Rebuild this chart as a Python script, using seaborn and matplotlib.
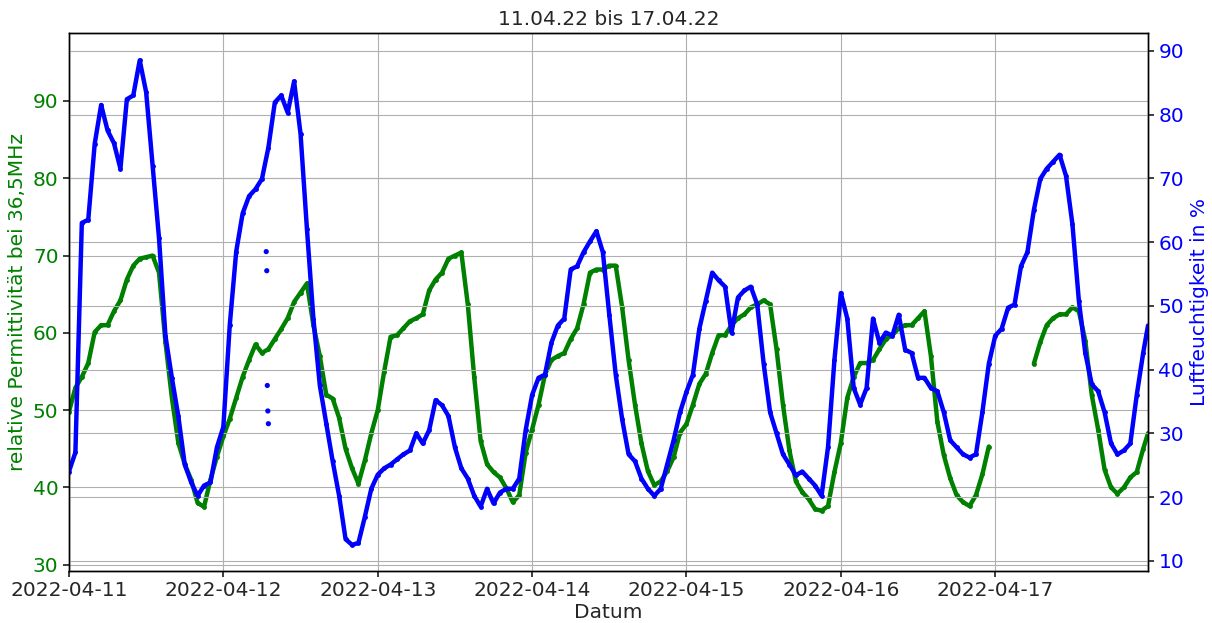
import numpy as np
import pandas as pd
import matplotlib
matplotlib.use("Agg")
import matplotlib.pyplot as plt
import matplotlib.dates as mdates
import seaborn as sns

# Hourly readings (00:00 ... 23:00) per day, 11.04.22 - 17.04.22
humidity_11 = [24.0, 27.0, 63.0, 63.5, 75.4, 81.5, 77.5, 75.5, 71.5, 82.4, 83.0, 88.5,
               83.5, 72.0, 60.6, 45.3, 38.7, 32.7, 25.1, 22.3, 20.2, 21.8, 22.3, 27.8]
humidity_12 = [31.0, 47.0, 58.5, 64.5, 67.2, 68.3, 69.9, 74.8, 81.9, 83.0, 80.3, 85.2,
               77.0, 62.0, 48.0, 37.5, 31.5, 25.6, 20.2, 13.4, 12.5, 12.8, 16.9, 21.3]
humidity_13 = [23.5, 24.5, 25.1, 25.9, 26.7, 27.3, 30.0, 28.4, 30.5, 35.2, 34.4, 32.7,
               27.8, 24.5, 22.9, 20.2, 18.5, 21.3, 19.0, 20.7, 21.3, 21.3, 22.9, 30.5]
humidity_14 = [36.0, 38.7, 39.2, 44.2, 46.9, 48.0, 55.7, 56.2, 58.4, 60.1, 61.7, 58.4,
               48.6, 39.2, 32.2, 26.7, 25.6, 22.9, 21.3, 20.2, 21.3, 25.1, 28.9, 33.3]
humidity_15 = [36.5, 39.2, 46.4, 50.8, 55.2, 54.0, 53.0, 45.8, 51.3, 52.4, 53.0, 50.2,
               40.9, 33.3, 30.0, 26.7, 25.1, 23.4, 24.0, 22.9, 21.8, 20.2, 27.8, 41.5]
humidity_16 = [52.0, 48.0, 37.1, 34.5, 37.1, 48.0, 44.2, 45.8, 45.3, 48.6, 43.1, 42.6,
               38.7, 38.7, 37.1, 36.6, 33.3, 28.9, 27.8, 26.7, 26.2, 26.7, 33.3, 40.9]
humidity_17 = [45.3, 46.4, 49.7, 50.2, 56.2, 58.4, 65.0, 69.9, 71.5, 72.6, 73.7, 70.4,
               62.8, 50.8, 42.6, 37.7, 36.6, 33.3, 28.4, 26.7, 27.3, 28.4, 36.0, 42.6]
humidity_last = 46.9

permittivity_11 = [49.8, 52.9, 54.3, 56.1, 60.1, 61.0, 61.0, 62.8, 64.2, 66.9, 68.7, 69.6,
                   69.8, 70.0, 67.8, 58.8, 51.6, 45.8, 43.0, 41.0, 38.0, 37.5, 41.0, 44.0]
permittivity_12 = [46.6, 48.9, 51.6, 54.3, 56.5, 58.5, 57.4, 57.9, 59.2, 60.5, 61.9, 64.0,
                   65.2, 66.4, 61.0, 57.0, 52.0, 51.5, 49.0, 45.0, 42.5, 40.5, 43.5, 47.0]
permittivity_13 = [50.0, 55.0, 59.5, 59.7, 60.6, 61.5, 61.9, 62.4, 65.5, 66.9, 67.8, 69.6,
                   70.0, 70.4, 63.7, 54.3, 46.0, 43.0, 42.0, 41.3, 39.9, 38.1, 39.0, 44.5]
permittivity_14 = [47.5, 50.7, 54.6, 56.5, 57.0, 57.4, 59.2, 60.6, 63.7, 67.8, 68.2, 68.2,
                   68.7, 68.7, 63.3, 56.5, 50.7, 45.7, 42.1, 40.3, 40.8, 42.1, 43.9, 47.1]
permittivity_15 = [48.2, 50.7, 53.4, 54.7, 57.4, 59.7, 59.7, 61.0, 61.9, 62.4, 63.3, 63.7,
                   64.2, 63.7, 57.9, 50.7, 44.8, 40.8, 39.4, 38.5, 37.2, 37.0, 37.6, 42.0]
permittivity_16 = [45.8, 51.6, 54.3, 56.1, 56.1, 56.5, 57.9, 59.2, 59.7, 60.6, 61.0, 61.0,
                   61.9, 62.8, 57.0, 48.5, 44.2, 41.2, 39.0, 38.1, 37.6, 39.0, 41.7, 45.3]
permittivity_17 = [np.nan, np.nan, np.nan, np.nan, np.nan, np.nan, 56.0, 58.8, 61.0, 61.9, 62.4, 62.4,
                   63.3, 62.8, 59.0, 52.0, 47.5, 42.3, 40.0, 39.2, 40.0, 41.3, 42.0, 45.0]
permittivity_last = 47.0

# isolated sensor spikes (12.04.22 morning)
spike_times = ["2022-04-12 06:40", "2022-04-12 06:45", "2022-04-12 06:50",
               "2022-04-12 06:55", "2022-04-12 07:00"]
spike_humidity = [58.5, 55.5, 37.5, 33.5, 31.5]

title = "11.04.22 bis 17.04.22"
left_label = "relative Permittivität bei 36,5MHz"
right_label = "Luftfeuchtigkeit in %"
x_label = "Datum"

# ---- assemble tables ----
times = list(pd.date_range("2022-04-11", periods=7 * 24, freq="h")) + [pd.Timestamp("2022-04-17 23:45")]
humidity = (humidity_11 + humidity_12 + humidity_13 + humidity_14 + humidity_15
            + humidity_16 + humidity_17 + [humidity_last])
permittivity = (permittivity_11 + permittivity_12 + permittivity_13 + permittivity_14
                + permittivity_15 + permittivity_16 + permittivity_17 + [permittivity_last])

df = pd.DataFrame({"Zeit": times, "rh": humidity, "eps": permittivity})
# split the permittivity record where readings are missing
df["seg"] = df["eps"].isna().cumsum()
eps_df = df.dropna(subset=["eps"])
spikes = pd.DataFrame({"Zeit": pd.to_datetime(spike_times), "rh": spike_humidity})

# ---- style ----
sns.set_theme(style="ticks", rc={"axes.grid": True, "grid.color": "#b0b0b0",
                                 "grid.linewidth": 0.8, "axes.edgecolor": "black",
                                 "axes.linewidth": 1.0})
plt.rcParams["font.family"] = ["DejaVu Sans"]
fs = 14.5

fig = plt.figure(figsize=(12.12, 6.23), dpi=100)
ax = fig.add_axes([0.0569, 0.0835, 0.8903, 0.8636])
ax2 = ax.twinx()

sns.lineplot(data=eps_df, x="Zeit", y="eps", units="seg", estimator=None, ax=ax,
             color="green", linewidth=3.2, marker="o", markersize=3.5,
             markeredgewidth=0, legend=False)
sns.lineplot(data=df, x="Zeit", y="rh", ax=ax2, estimator=None,
             color="blue", linewidth=3.2, marker="o", markersize=3.5,
             markeredgewidth=0, legend=False)
sns.scatterplot(data=spikes, x="Zeit", y="rh", ax=ax2, color="blue", s=14,
                edgecolor="none", legend=False)

ax.set_xlim(pd.Timestamp("2022-04-11 00:00"), pd.Timestamp("2022-04-17 23:45"))
ax.set_ylim(29.2, 98.8)
ax2.set_ylim(8.4, 92.8)
ax.set_yticks(range(30, 91, 10))
ax2.set_yticks(range(10, 91, 10))

ax.xaxis.set_major_locator(mdates.DayLocator())
ax.xaxis.set_major_formatter(mdates.DateFormatter("%Y-%m-%d"))

ax.grid(True, color="#b0b0b0", linewidth=0.8)
ax2.grid(True, color="#b0b0b0", linewidth=0.8)

ax.tick_params(axis="y", labelcolor="green", labelsize=fs, length=4)
ax2.tick_params(axis="y", labelcolor="blue", labelsize=fs, length=4)
ax.tick_params(axis="x", labelsize=fs, length=4)

ax.set_xlabel(x_label, fontsize=fs, labelpad=2)
ax.set_ylabel(left_label, color="green", fontsize=fs)
ax2.set_ylabel(right_label, color="blue", fontsize=fs)
ax.set_title(title, fontsize=fs, pad=6)

for spine in ax2.spines.values():
    spine.set_color("black")

fig.savefig("out.png", dpi=100)
